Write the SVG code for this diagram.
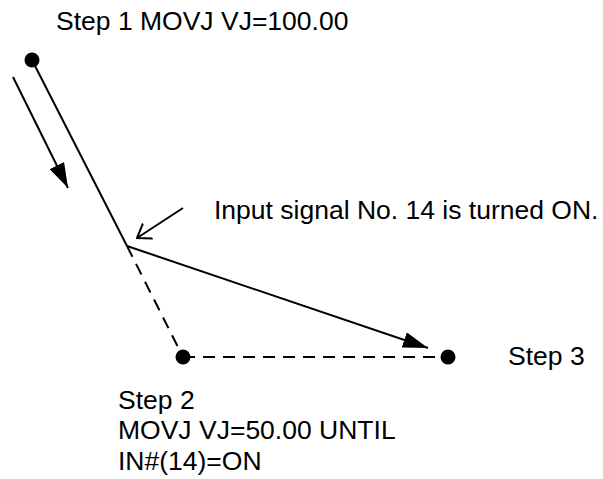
<svg xmlns="http://www.w3.org/2000/svg" width="603" height="479" viewBox="0 0 603 479">
<style>
text{font-family:"Liberation Sans",Arial,sans-serif;font-size:26.5px;fill:#000}
.ln{stroke:#000;stroke-width:2;fill:none}
.dash{stroke:#000;stroke-width:2;fill:none;stroke-dasharray:12 8}
.dot{fill:#000}
</style>
<defs>
<marker id="fill" viewBox="0 0 25 16" refX="25" refY="8" markerWidth="25" markerHeight="16" markerUnits="userSpaceOnUse" orient="auto">
<path d="M0,0 L25,8 L0,16 Z" fill="#000"/>
</marker>
<marker id="open" viewBox="0 0 14 20" refX="13" refY="10" markerWidth="14" markerHeight="20" markerUnits="userSpaceOnUse" orient="auto">
<path d="M0,1 L13,10 L0,19" fill="none" stroke="#000" stroke-width="2"/>
</marker>
</defs>
<g id="connectors">
<line class="ln" x1="32" y1="60" x2="127" y2="246"/>
<line class="ln" x1="13" y1="77" x2="68" y2="188" marker-end="url(#fill)"/>
<line class="ln" x1="183" y1="208" x2="137" y2="238" marker-end="url(#open)"/>
<line class="ln" x1="127" y1="246" x2="428" y2="348" marker-end="url(#fill)"/>
<line class="dash" x1="127" y1="246" x2="183" y2="357"/>
<line class="dash" x1="183" y1="357" x2="448" y2="357"/>
</g>
<g id="step1">
<circle class="dot" cx="32" cy="60" r="7.5"/>
<text x="56" y="30">Step 1 MOVJ VJ=100.00</text>
</g>
<g id="signal">
<text x="214" y="219">Input signal No. 14 is turned ON.</text>
</g>
<g id="step2">
<circle class="dot" cx="183" cy="357" r="7.5"/>
<text x="118" y="409">Step 2</text>
<text x="118" y="439">MOVJ VJ=50.00 UNTIL</text>
<text x="118" y="470">IN#(14)=ON</text>
</g>
<g id="step3">
<circle class="dot" cx="448" cy="357" r="7.5"/>
<text x="508" y="365">Step 3</text>
</g>
</svg>
